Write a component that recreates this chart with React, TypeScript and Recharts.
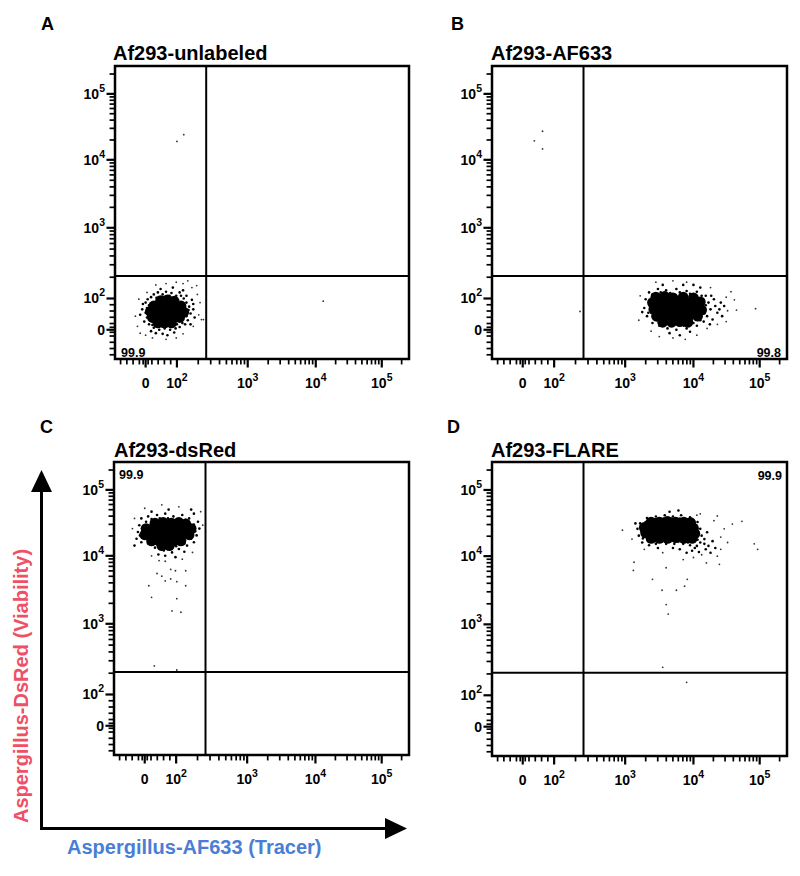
import React from 'react';
import { ScatterChart, Scatter, XAxis, YAxis, ReferenceLine, ReferenceArea } from 'recharts';

const FONT = '"Liberation Sans", Arial, sans-serif';

// Axis (logicle-like display units): positions of 0, 10^2, 10^3, 10^4, 10^5
const MAJOR_POS = [0, 0.46, 1.5, 2.5, 3.47];
const MAJOR_BASE = ['0', '10', '10', '10', '10'];
const MAJOR_EXP = ['', '2', '3', '4', '5'];
const LINEAR_MINOR = [-80, -60, -40, -20, -8, 8, 20, 40, 60, 80];
const DOMAIN_X: [number, number] = [-0.45, 3.87];
const DOMAIN_Y: [number, number] = [-0.43, 3.88];
const GATE_X = 0.89;
const GATE_Y = 0.79;
const MAJOR_LEN = 0.125; // tick length in axis units (~8.5px)
const MINOR_LEN = 0.08; // (~5.5px)

const TITLES = ['Af293-unlabeled', 'Af293-AF633', 'Af293-dsRed', 'Af293-FLARE'];
const LETTERS = ['A', 'B', 'C', 'D'];
const PERCENTS = ['99.9', '99.8', '99.9', '99.9'];
const Y_TITLE = 'Aspergillus-DsRed (Viability)';
const X_TITLE = 'Aspergillus-AF633 (Tracer)';

// Panel A: Af293-unlabeled (points in display units)
const coreA = [
  [0.22, 0.43], [0.32, 0.44], [0.42, 0.42],
  [0.12, 0.35], [0.22, 0.35], [0.32, 0.36], [0.42, 0.34], [0.52, 0.35],
  [0.07, 0.27], [0.17, 0.27], [0.27, 0.28], [0.37, 0.27], [0.47, 0.27], [0.56, 0.26],
  [0.1, 0.18], [0.2, 0.18], [0.3, 0.19], [0.4, 0.18], [0.5, 0.18],
  [0.18, 0.1], [0.28, 0.1], [0.38, 0.1],
];
const midA = [
  [-0.05, 0.3], [0.0, 0.4], [0.02, 0.18], [0.05, 0.08], [0.0, 0.25], [0.08, 0.48], [0.12, 0.52], [0.18, 0.55],
  [0.25, 0.52], [0.3, 0.56], [0.38, 0.54], [0.45, 0.5], [0.5, 0.55], [0.56, 0.46], [0.6, 0.4], [0.64, 0.34],
  [0.66, 0.24], [0.62, 0.14], [0.58, 0.08], [0.5, 0.04], [0.44, 0.02], [0.36, 0.0], [0.28, 0.02], [0.2, 0.0],
  [0.12, 0.03], [0.08, -0.02], [0.15, -0.05], [0.25, -0.06], [0.32, -0.08], [0.42, -0.04], [0.68, 0.44],
  [0.7, 0.3], [0.72, 0.18], [0.05, 0.36], [-0.02, 0.12], [0.55, 0.58], [0.22, 0.6], [0.4, 0.62], [0.1, 0.12],
  [0.6, 0.5], [-0.08, 0.22], [0.66, 0.08], [0.03, 0.45], [0.16, 0.47], [0.35, 0.5], [0.52, 0.5], [0.63, 0.29],
  [0.6, 0.2], [0.54, 0.1], [0.46, 0.08], [0.24, 0.05], [0.1, 0.07], [0.02, 0.32], [-0.04, 0.38], [0.7, 0.38],
];
const sparseA = [
  [-0.15, 0.2], [-0.12, 0.05], [-0.08, -0.05], [0.0, -0.08], [0.1, -0.12], [0.3, -0.14], [0.45, -0.12],
  [0.55, -0.06], [0.7, 0.05], [0.78, 0.22], [0.8, 0.4], [0.76, 0.52], [0.68, 0.62], [0.55, 0.68], [0.45, 0.7],
  [0.62, 0.72], [0.75, 0.65], [0.82, 0.15], [-0.1, 0.45], [0.02, 0.55], [0.3, 0.68], [0.15, 0.66],
  [0.46, 2.77], [0.56, 2.87], [2.61, 0.42], [0.85, 0.15],
];

// Panel B: Af293-AF633
const coreB = [
  [1.95, 0.48], [2.08, 0.49], [2.2, 0.47], [2.35, 0.48], [2.5, 0.47],
  [1.9, 0.4], [2.02, 0.4], [2.14, 0.41], [2.26, 0.39], [2.38, 0.4], [2.5, 0.39], [2.6, 0.41],
  [1.92, 0.3], [2.04, 0.31], [2.16, 0.3], [2.28, 0.3], [2.4, 0.31], [2.52, 0.3], [2.62, 0.29],
  [1.96, 0.2], [2.08, 0.21], [2.2, 0.19], [2.32, 0.2], [2.44, 0.21], [2.56, 0.2],
  [2.05, 0.11], [2.18, 0.11], [2.3, 0.12], [2.42, 0.11],
];
const midB = [
  [1.8, 0.45], [1.78, 0.32], [1.82, 0.2], [1.75, 0.26], [1.85, 0.55], [1.98, 0.6], [2.1, 0.58], [2.25, 0.6],
  [2.4, 0.57], [2.55, 0.56], [2.68, 0.5], [2.72, 0.4], [2.75, 0.3], [2.7, 0.2], [2.65, 0.12], [2.55, 0.06],
  [2.4, 0.02], [2.25, 0.0], [2.12, 0.02], [2.0, 0.06], [1.9, 0.1], [2.8, 0.45], [2.82, 0.35], [2.85, 0.25],
  [2.9, 0.4], [2.78, 0.15], [2.88, 0.3], [2.95, 0.35], [2.92, 0.2], [2.6, 0.62], [2.15, -0.05], [2.3, -0.08],
  [2.45, -0.03], [2.05, 0.66], [2.35, 0.66], [2.5, 0.66], [1.86, 0.36], [1.84, 0.25], [1.9, 0.52], [2.02, 0.55],
  [2.16, 0.54], [2.3, 0.55], [2.45, 0.53], [2.62, 0.5], [2.68, 0.36], [2.66, 0.24], [2.6, 0.14], [2.5, 0.1],
  [2.36, 0.06], [2.2, 0.06], [2.06, 0.14], [1.96, 0.14], [2.76, 0.5], [2.74, 0.08],
];
const sparseB = [
  [1.72, 0.5], [1.7, 0.14], [1.88, -0.02], [2.0, -0.1], [2.2, -0.12], [2.38, -0.14], [2.55, -0.08], [2.7, 0.02],
  [2.85, 0.08], [2.98, 0.12], [3.0, 0.28], [2.98, 0.48], [2.75, 0.62], [2.2, 0.72], [2.4, 0.7], [1.95, 0.7],
  [3.05, 0.56], [3.1, 0.44], [3.13, 0.29], [3.41, 0.31], [0.17, 2.78], [0.29, 2.92], [0.29, 2.66], [0.84, 0.27],
];

// Panel C: Af293-dsRed
const coreC = [
  [0.15, 2.98], [0.27, 2.99], [0.39, 2.98], [0.5, 2.99], [0.6, 2.97],
  [0.02, 2.9], [0.12, 2.9], [0.23, 2.91], [0.35, 2.9], [0.46, 2.9], [0.57, 2.91], [0.68, 2.9],
  [0.0, 2.81], [0.1, 2.81], [0.21, 2.82], [0.32, 2.81], [0.43, 2.81], [0.54, 2.82], [0.65, 2.81],
  [0.1, 2.72], [0.21, 2.72], [0.32, 2.73], [0.43, 2.72], [0.53, 2.72],
  [0.25, 2.65], [0.36, 2.65],
];
const midC = [
  [-0.1, 2.85], [-0.08, 2.95], [-0.12, 2.75], [-0.05, 3.05], [0.05, 3.08], [0.18, 3.1], [0.3, 3.12], [0.42, 3.08],
  [0.55, 3.1], [0.65, 3.05], [0.72, 3.12], [0.78, 3.0], [0.8, 2.9], [0.76, 2.8], [0.72, 2.7], [0.62, 2.65],
  [0.5, 2.6], [0.4, 2.55], [0.28, 2.58], [0.15, 2.62], [0.05, 2.68], [-0.05, 2.7], [0.3, 2.5], [0.45, 2.48],
  [0.2, 2.52], [0.58, 2.56], [0.68, 3.18], [0.1, 3.15], [-0.15, 2.65], [0.35, 3.18], [-0.04, 2.9], [0.02, 3.0],
  [0.1, 3.04], [0.22, 3.05], [0.34, 3.05], [0.47, 3.04], [0.6, 3.03], [0.72, 2.96], [0.74, 2.86], [0.68, 2.75],
  [0.58, 2.68], [0.46, 2.64], [0.14, 2.68], [0.02, 2.76], [-0.07, 2.8],
];
const sparseC = [
  [0.21, 2.43], [0.38, 2.3], [0.25, 2.2], [0.45, 2.28], [0.6, 2.28], [0.06, 2.06], [0.3, 2.13], [0.38, 2.16],
  [0.47, 2.12], [0.6, 2.06], [0.1, 1.89], [0.47, 1.87], [0.4, 1.69], [0.53, 1.67], [0.18, 2.24], [0.14, 0.88],
  [0.47, 0.82], [-0.18, 2.9], [0.82, 3.15], [0.85, 2.95], [0.25, 3.25], [0.5, 3.22], [0.0, 3.2], [-0.15, 3.05],
  [0.7, 2.55], [0.1, 2.5], [0.55, 2.45], [0.3, 2.42],
];

// Panel D: Af293-FLARE
const coreD = [
  [1.88, 3.0], [2.0, 3.0], [2.12, 3.01], [2.24, 3.0], [2.36, 3.0], [2.46, 2.99],
  [1.78, 2.92], [1.9, 2.92], [2.02, 2.92], [2.14, 2.93], [2.26, 2.92], [2.38, 2.92], [2.5, 2.91],
  [1.8, 2.84], [1.92, 2.84], [2.04, 2.84], [2.16, 2.85], [2.28, 2.84], [2.4, 2.84], [2.52, 2.83],
  [1.88, 2.76], [2.0, 2.76], [2.12, 2.76], [2.24, 2.77], [2.36, 2.76], [2.48, 2.76],
];
const midD = [
  [1.68, 2.9], [1.7, 2.8], [1.72, 2.98], [1.75, 2.7], [1.82, 3.06], [1.95, 3.08], [2.08, 3.1], [2.2, 3.08],
  [2.32, 3.1], [2.45, 3.07], [2.56, 3.0], [2.6, 2.9], [2.62, 2.8], [2.6, 2.7], [2.55, 2.65], [2.45, 2.66],
  [2.35, 2.68], [2.22, 2.68], [2.1, 2.68], [1.95, 2.68], [1.85, 2.66], [2.66, 2.75], [2.7, 2.85], [2.72, 2.65],
  [2.68, 2.6], [2.58, 2.56], [2.48, 2.58], [2.78, 2.72], [2.75, 2.55], [2.4, 2.55], [2.3, 2.6], [2.2, 2.62],
  [2.82, 2.62], [1.98, 2.62], [2.15, 3.15], [2.28, 3.17], [1.65, 2.98], [1.74, 2.86], [1.76, 2.76], [1.8, 3.0],
  [1.94, 3.04], [2.06, 3.05], [2.18, 3.05], [2.3, 3.05], [2.42, 3.04], [2.54, 2.95], [2.56, 2.86], [2.56, 2.74],
  [2.42, 2.7], [2.28, 2.71], [2.16, 2.71], [2.04, 2.71], [1.9, 2.71], [2.66, 2.68], [2.52, 2.62],
];
const sparseD = [
  [1.46, 2.88], [1.63, 2.41], [1.62, 2.29], [1.9, 2.16], [2.1, 2.33], [2.41, 2.16], [2.04, 2.0], [2.25, 2.0],
  [2.1, 1.79], [2.13, 1.65], [2.37, 2.06], [2.85, 3.09], [3.21, 3.01], [3.39, 2.68], [3.44, 2.6], [3.07, 2.97],
  [3.0, 2.7], [2.88, 2.38], [2.69, 2.4], [2.05, 0.87], [2.4, 0.65], [2.62, 2.52], [2.5, 2.48], [2.85, 2.5],
  [2.9, 2.78], [2.95, 2.9], [2.8, 3.02], [2.55, 3.1], [1.6, 2.75], [1.78, 2.6], [2.05, 2.55], [2.35, 2.45],
  [2.6, 3.12], [2.9, 2.6],
];

const toPts = (arr: number[][]) => arr.map(([x, y]) => ({ x, y }));

function buildMinorTicks(): number[] {
  const out = LINEAR_MINOR.map((v) => (v / 100) * MAJOR_POS[1]);
  for (let k = 1; k < MAJOR_POS.length; k++) {
    const p0 = MAJOR_POS[k];
    const span = k < MAJOR_POS.length - 1 ? MAJOR_POS[k + 1] - p0 : p0 - MAJOR_POS[k - 1];
    for (let m = 2; m <= 9; m++) {
      const p = p0 + Math.log10(m) * span;
      if (p < DOMAIN_X[1]) out.push(p);
    }
  }
  return out;
}
const MINOR_TICKS = buildMinorTicks();

const XTick = (props: any) => {
  const { x, y, payload } = props;
  const i = MAJOR_POS.indexOf(payload.value);
  if (i < 0) return <g />;
  return (
    <text x={x} y={y + 29} textAnchor="middle" fontFamily={FONT} fontWeight="bold" fontSize={14} fill="#000">
      <tspan>{MAJOR_BASE[i]}</tspan>
      {MAJOR_EXP[i] ? <tspan dy={-7} fontSize={10.5}>{MAJOR_EXP[i]}</tspan> : null}
    </text>
  );
};

const YTick = (props: any) => {
  const { x, y, payload } = props;
  const i = MAJOR_POS.indexOf(payload.value);
  if (i < 0) return <g />;
  return (
    <text x={x - 10} y={y + 5} textAnchor="end" fontFamily={FONT} fontWeight="bold" fontSize={14} fill="#000">
      <tspan>{MAJOR_BASE[i]}</tspan>
      {MAJOR_EXP[i] ? <tspan dy={-7} fontSize={10.5}>{MAJOR_EXP[i]}</tspan> : null}
    </text>
  );
};

const dot = (r: number, fill: string) => (p: any) => <circle cx={p.cx} cy={p.cy} r={r} fill={fill} />;

const tickSeg = (axis: 'x' | 'y', t: number, len: number, w: number) =>
  axis === 'x' ? (
    <ReferenceLine
      key={`x${t}`}
      segment={[{ x: t, y: DOMAIN_Y[0] }, { x: t, y: DOMAIN_Y[0] - len }]}
      ifOverflow="visible"
      stroke="#000"
      strokeWidth={w}
    />
  ) : (
    <ReferenceLine
      key={`y${t}`}
      segment={[{ x: DOMAIN_X[0], y: t }, { x: DOMAIN_X[0] - len, y: t }]}
      ifOverflow="visible"
      stroke="#000"
      strokeWidth={w}
    />
  );

type PanelProps = { left: number; top: number; width: number; height: number; core: number[][]; mid: number[][]; sparse: number[][] };

const Panel = ({ left, top, width, height, core, mid, sparse }: PanelProps) => (
  <div style={{ position: 'absolute', left, top, width, height }}>
    <ScatterChart width={width} height={height} margin={{ top: 5, right: 5, bottom: 0, left: 0 }}>
      <XAxis
        type="number"
        dataKey="x"
        domain={DOMAIN_X}
        allowDataOverflow
        ticks={MAJOR_POS}
        interval={0}
        tick={XTick}
        tickLine={false}
        tickSize={0}
        tickMargin={0}
        axisLine={false}
        height={40}
      />
      <YAxis
        type="number"
        dataKey="y"
        domain={DOMAIN_Y}
        allowDataOverflow
        ticks={MAJOR_POS}
        interval={0}
        tick={YTick}
        tickLine={false}
        tickSize={0}
        tickMargin={0}
        axisLine={false}
        width={55}
      />
      <Scatter data={toPts(sparse)} isAnimationActive={false} shape={dot(0.9, '#333')} />
      <Scatter data={toPts(mid)} isAnimationActive={false} shape={dot(1.3, '#000')} />
      <Scatter data={toPts(core)} isAnimationActive={false} shape={dot(5.4, '#000')} />
      <ReferenceLine x={GATE_X} stroke="#000" strokeWidth={2} />
      <ReferenceLine y={GATE_Y} stroke="#000" strokeWidth={2} />
      {MAJOR_POS.map((t) => tickSeg('x', t, MAJOR_LEN, 2.2))}
      {MINOR_TICKS.map((t) => tickSeg('x', t, MINOR_LEN, 1.7))}
      {MAJOR_POS.map((t) => tickSeg('y', t, MAJOR_LEN, 2.2))}
      {MINOR_TICKS.filter((t) => t < DOMAIN_Y[1]).map((t) => tickSeg('y', t, MINOR_LEN, 1.7))}
      <ReferenceArea x1={DOMAIN_X[0]} x2={DOMAIN_X[1]} y1={DOMAIN_Y[0]} y2={DOMAIN_Y[1]} fill="none" fillOpacity={0} stroke="#000" strokeWidth={2.5} />
    </ScatterChart>
  </div>
);

export default function App() {
  const RED = '#EF5066';
  const BLUE = '#4A7ED6';
  return (
    <div style={{ position: 'absolute', left: 0, top: 0, width: 800, height: 876, background: '#fff', fontFamily: FONT }}>
      <Panel left={60} top={61} width={354} height={338} core={coreA} mid={midA} sparse={sparseA} />
      <Panel left={437} top={61} width={355} height={338} core={coreB} mid={midB} sparse={sparseB} />
      <Panel left={59} top={457} width={355} height={338} core={coreC} mid={midC} sparse={sparseC} />
      <Panel left={437} top={457} width={355} height={339} core={coreD} mid={midD} sparse={sparseD} />
      <svg width={800} height={876} style={{ position: 'absolute', left: 0, top: 0, pointerEvents: 'none' }}>
        <g fontFamily={FONT} fontWeight="bold" fill="#000">
          <text x={41} y={30} fontSize={18}>{LETTERS[0]}</text>
          <text x={451} y={30} fontSize={18}>{LETTERS[1]}</text>
          <text x={40} y={433} fontSize={18}>{LETTERS[2]}</text>
          <text x={447} y={433} fontSize={18}>{LETTERS[3]}</text>
          <text x={113} y={60} fontSize={20}>{TITLES[0]}</text>
          <text x={491} y={60} fontSize={20}>{TITLES[1]}</text>
          <text x={114} y={457} fontSize={20}>{TITLES[2]}</text>
          <text x={491} y={457} fontSize={20}>{TITLES[3]}</text>
          <text x={121} y={357} fontSize={12.5}>{PERCENTS[0]}</text>
          <text x={781} y={357} fontSize={12.5} textAnchor="end">{PERCENTS[1]}</text>
          <text x={119} y={479} fontSize={12.5}>{PERCENTS[2]}</text>
          <text x={782} y={480} fontSize={12.5} textAnchor="end">{PERCENTS[3]}</text>
        </g>
        <line x1={41.5} y1={829.5} x2={41.5} y2={486} stroke="#000" strokeWidth={3} />
        <polygon points="41.5,470 31,492 52,492" fill="#000" />
        <line x1={40} y1={828.5} x2={390} y2={828.5} stroke="#000" strokeWidth={3} />
        <polygon points="407,828.5 385,818 385,839" fill="#000" />
        <text x={28} y={686} transform="rotate(-90 28 686)" textAnchor="middle" fontFamily={FONT} fontWeight="bold" fontSize={20} fill={RED}>{Y_TITLE}</text>
        <text x={67} y={854} fontFamily={FONT} fontWeight="bold" fontSize={20} fill={BLUE}>{X_TITLE}</text>
      </svg>
    </div>
  );
}
